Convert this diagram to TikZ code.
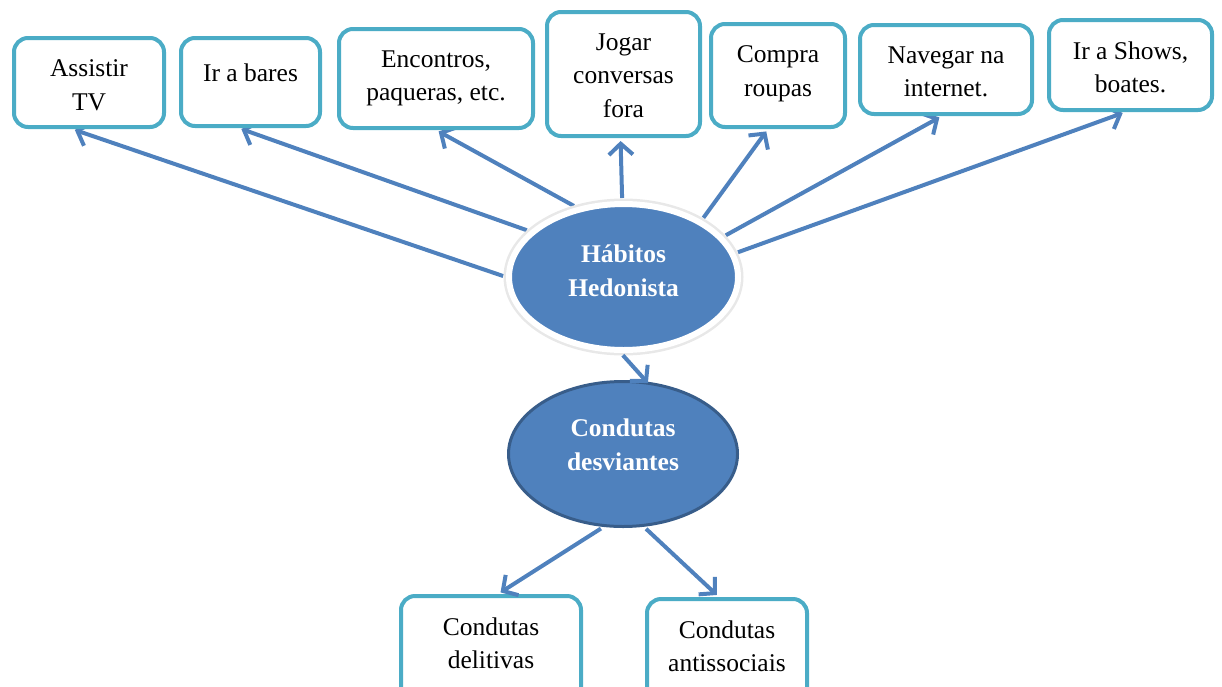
\documentclass[tikz,border=0pt]{standalone}
\usepackage{fontspec}
\setmainfont{Liberation Serif}
\usetikzlibrary{shapes.geometric, arrows.meta, backgrounds}

\definecolor{boxline}{RGB}{75,172,198}
\definecolor{ovalfill}{RGB}{79,129,189}
\definecolor{ovalline}{RGB}{56,93,138}
\definecolor{arrowcol}{RGB}{79,129,189}

\begin{document}
\begin{tikzpicture}[x=1pt, y=-1pt,
    font=\fontsize{25.5}{33.5}\selectfont,
    block/.style={rectangle, draw=boxline, line width=4pt, fill=white, rounded corners=14pt, inner sep=0pt},
    lbl/.style={anchor=north, inner sep=0pt, yshift=-23.5pt, align=center, execute at begin node=\strut},
    oval/.style={ellipse, fill=ovalfill, inner sep=0pt, minimum width=229pt},
    olbl/.style={anchor=north, inner sep=0pt, yshift=1.5pt, align=center, text=white, font=\fontsize{25.5}{33.5}\selectfont\bfseries, execute at begin node=\strut},
    line/.style={draw=arrowcol, line width=4pt, shorten <=3pt, shorten >=3pt, -{Straight Barb[length=11pt, width=24pt]}}
]
    \useasboundingbox (0,0) rectangle (1222,686);

    % Activities (top row)
    \node [block, minimum width=150pt, minimum height=89pt, label={[lbl]north:{Assistir\\TV}}] (tv) at (89,82.5) {};
    \node [block, minimum width=139pt, minimum height=88pt, label={[lbl, yshift=2pt]north:{Ir a bares}}] (bares) at (250.5,82) {};
    \node [block, minimum width=194pt, minimum height=99pt, label={[lbl]north:{Encontros,\\paqueras, etc.}}] (encontros) at (436,78.5) {};
    \node [block, minimum width=153pt, minimum height=124pt, label={[lbl]north:{Jogar\\conversas\\fora}}] (jogar) at (623.5,74) {};
    \node [block, minimum width=134pt, minimum height=103pt, label={[lbl]north:{Compra\\roupas}}] (compra) at (778,75.5) {};
    \node [block, minimum width=172pt, minimum height=89pt, label={[lbl]north:{Navegar na\\internet.}}] (navegar) at (946,69.5) {};
    \node [block, minimum width=163pt, minimum height=90pt, label={[lbl]north:{Ir a Shows,\\boates.}}] (shows) at (1130.5,65) {};

    % Central ovals
    \node [oval, minimum height=146pt, draw=white, line width=6pt, preaction={draw=black!9, line width=11pt},
        label={[olbl]center:{Hábitos\\Hedonista}}] (habitos) at (623.5,277) {};
    \node [oval, minimum height=145pt, draw=ovalline, line width=3pt,
        label={[olbl, yshift=3pt]center:{Condutas\\desviantes}}] (condutas) at (623,454) {};

    % Outcomes (bottom row)
    \node [block, minimum width=180pt, minimum height=110pt, label={[lbl]north:{Condutas\\delitivas}}] (delitivas) at (491,651) {};
    \node [block, minimum width=160pt, minimum height=110pt, label={[lbl]north:{Condutas\\antissociais}}] (antissociais) at (727,654) {};

    % Connections
    \begin{scope}[on background layer]
        \path [line] (habitos.180) -- ([xshift=-17pt]tv.south);
        \path [line] (habitos.154) -- ([xshift=-12pt]bares.south);
        \path [line] (habitos.124) -- (encontros.south);
        \path [line] (habitos.91) -- ([xshift=-3pt]jogar.south);
        \path [line] (habitos.36) -- ([xshift=-10pt]compra.south);
        \path [line] (habitos.22) -- ([xshift=-4pt]navegar.south);
        \path [line] (habitos.12) -- ([xshift=-5pt]shows.south);
    \end{scope}
    \path [line, shorten >=-2pt] (habitos.-92) -- (condutas.72);
    \path [line] (condutas.255) -- ([xshift=7pt]delitivas.north);
    \path [line] (condutas.286) -- ([xshift=-8pt]antissociais.north);

\end{tikzpicture}
\end{document}
